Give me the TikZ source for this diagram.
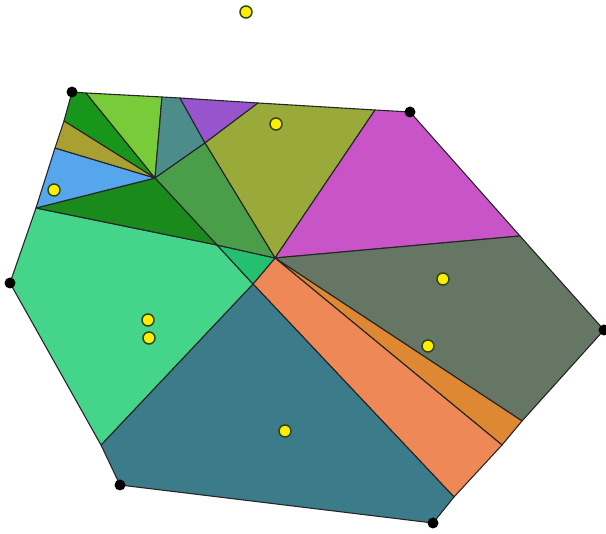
\documentclass[tikz,border=0pt]{standalone}
\usepackage{tikz}

\definecolor{cellA}{RGB}{24,150,28}
\definecolor{cellB}{RGB}{120,204,58}
\definecolor{cellC}{RGB}{76,140,138}
\definecolor{cellD}{RGB}{152,84,204}
\definecolor{cellE}{RGB}{154,170,58}
\definecolor{cellF}{RGB}{200,84,200}
\definecolor{cellG}{RGB}{102,118,100}
\definecolor{cellH}{RGB}{222,136,52}
\definecolor{cellI}{RGB}{238,136,86}
\definecolor{cellJ}{RGB}{60,124,138}
\definecolor{cellK}{RGB}{68,212,138}
\definecolor{cellL}{RGB}{36,192,112}
\definecolor{cellM}{RGB}{74,158,74}
\definecolor{cellN}{RGB}{26,138,28}
\definecolor{cellO}{RGB}{86,166,238}
\definecolor{cellP}{RGB}{168,160,48}
\definecolor{siteyellow}{RGB}{255,238,0}
\definecolor{siterim}{RGB}{50,70,20}

\begin{document}
\begin{tikzpicture}[x=1pt, y=-1pt,
    cell/.style={draw=black!85, line width=1.1pt, line join=round},
    site/.style={circle, fill=siteyellow, draw=siterim, line width=1.5pt, inner sep=0pt, minimum size=12pt},
    hullpt/.style={circle, fill=black, inner sep=0pt, minimum size=11pt}]
    \useasboundingbox (0,0) rectangle (606,534);

    % Hull corners and the points where cell borders meet the hull
    \coordinate (A) at (72,92);
    \coordinate (T1) at (86,93);
    \coordinate (T2) at (162,97);
    \coordinate (T3) at (180,98);
    \coordinate (T4) at (258,103);
    \coordinate (T5) at (375,110);
    \coordinate (B) at (410,112);
    \coordinate (R1) at (520,236);
    \coordinate (C) at (604,330);
    \coordinate (R2) at (522,421);
    \coordinate (R3) at (502,445);
    \coordinate (R4) at (454,497);
    \coordinate (D) at (433,523);
    \coordinate (E) at (120,485);
    \coordinate (L3) at (101,445);
    \coordinate (F) at (10,283);
    \coordinate (L2) at (36,208);
    \coordinate (L1) at (55,148);
    \coordinate (L0) at (64,121);

    % Inner crossing points
    \coordinate (G) at (155,178);
    \coordinate (K) at (205,143);
    \coordinate (H) at (275,258);
    \coordinate (M) at (217,245);
    \coordinate (N) at (253,284);

    % Cells
    \draw[cell, fill=cellA] (A) -- (T1) -- (G) -- (L0) -- cycle;
    \draw[cell, fill=cellB] (T1) -- (T2) -- (G) -- cycle;
    \draw[cell, fill=cellC] (T2) -- (T3) -- (K) -- (G) -- cycle;
    \draw[cell, fill=cellD] (T3) -- (T4) -- (K) -- cycle;
    \draw[cell, fill=cellE] (T4) -- (T5) -- (H) -- (K) -- cycle;
    \draw[cell, fill=cellF] (T5) -- (B) -- (R1) -- (H) -- cycle;
    \draw[cell, fill=cellG] (H) -- (R1) -- (C) -- (R2) -- cycle;
    \draw[cell, fill=cellH] (H) -- (R2) -- (R3) -- cycle;
    \draw[cell, fill=cellI] (H) -- (R3) -- (R4) -- (N) -- cycle;
    \draw[cell, fill=cellJ] (N) -- (R4) -- (D) -- (E) -- (L3) -- cycle;
    \draw[cell, fill=cellK] (L2) -- (M) -- (N) -- (L3) -- (F) -- cycle;
    \draw[cell, fill=cellL] (M) -- (H) -- (N) -- cycle;
    \draw[cell, fill=cellM] (G) -- (K) -- (H) -- (M) -- cycle;
    \draw[cell, fill=cellN] (L2) -- (G) -- (M) -- cycle;
    \draw[cell, fill=cellO] (L1) -- (G) -- (L2) -- cycle;
    \draw[cell, fill=cellP] (L0) -- (G) -- (L1) -- cycle;

    % Hull points
    \foreach \p in {A, B, C, D, E, F}
        \node[hullpt] (h\p) at (\p) {};

    % Sites
    \node[site] (s1) at (246,12) {};
    \node[site] (s2) at (276,124) {};
    \node[site] (s3) at (54,190) {};
    \node[site] (s4) at (148,320) {};
    \node[site] (s5) at (149,338) {};
    \node[site] (s6) at (443,279) {};
    \node[site] (s7) at (428,346) {};
    \node[site] (s8) at (285,431) {};
\end{tikzpicture}
\end{document}
